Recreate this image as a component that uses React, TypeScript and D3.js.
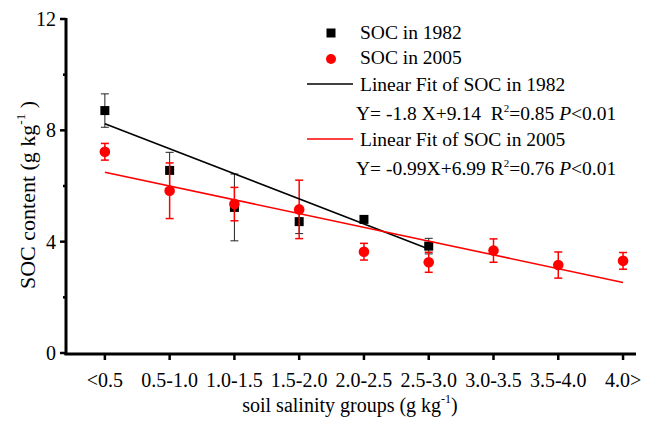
import * as d3 from 'd3';
import { useRef, useEffect } from 'react';

const groups = ['<0.5', '0.5-1.0', '1.0-1.5', '1.5-2.0', '2.0-2.5', '2.5-3.0', '3.0-3.5', '3.5-4.0', '4.0>'];
const soc1982 = [8.71, 6.56, 5.23, 4.72, 4.80, 3.84];
const err1982 = [0.6, 0.65, 1.2, 0.43, 0.1, 0.28];
const soc2005 = [7.23, 5.83, 5.35, 5.16, 3.64, 3.26, 3.68, 3.16, 3.31];
const err2005 = [0.3, 1.0, 0.6, 1.05, 0.3, 0.36, 0.42, 0.47, 0.3];
// fitted lines: Y = slope * X + intercept, X = salinity (0.5 per group)
const fitSlope = [-1.8, -0.99];
const fitIntercept = [9.14, 6.99];
const yTicks = [0, 4, 8, 12];
const yMinor = [2, 6, 10];

const FONT = '"Liberation Serif", "Times New Roman", serif';

function App() {
    const svgRef = useRef(null);
    const width = 647;
    const height = 423;

    useEffect(() => {
        const svg = d3.select(svgRef.current);
        svg.selectAll('*').remove();

        const x = d3.scaleLinear().domain([0.4, 9.2]).range([66, 636]);
        const y = d3.scaleLinear().domain([0, 12]).range([353, 19]);
        const idx = (i) => i + 1;

        const g = svg.append('g');

        // black series: error bars then squares
        const blk = g.append('g');
        soc1982.forEach((v, i) => {
            const cx = x(idx(i));
            const e = err1982[i];
            blk.append('line').attr('x1', cx).attr('x2', cx)
                .attr('y1', y(v - e)).attr('y2', y(v + e))
                .attr('stroke', '#222').attr('stroke-width', 1);
            [v - e, v + e].forEach(t => {
                blk.append('line').attr('x1', cx - 4).attr('x2', cx + 4)
                    .attr('y1', y(t)).attr('y2', y(t))
                    .attr('stroke', '#222').attr('stroke-width', 1);
            });
            blk.append('rect').attr('x', cx - 4.5).attr('y', y(v) - 4.5)
                .attr('width', 9).attr('height', 9).attr('fill', '#000');
        });

        // red series
        const red = g.append('g');
        soc2005.forEach((v, i) => {
            const cx = x(idx(i));
            const e = err2005[i];
            red.append('line').attr('x1', cx).attr('x2', cx)
                .attr('y1', y(v - e)).attr('y2', y(v + e))
                .attr('stroke', '#ff0000').attr('stroke-width', 1.5);
            [v - e, v + e].forEach(t => {
                red.append('line').attr('x1', cx - 4).attr('x2', cx + 4)
                    .attr('y1', y(t)).attr('y2', y(t))
                    .attr('stroke', '#ff0000').attr('stroke-width', 1.5);
            });
            red.append('circle').attr('cx', cx).attr('cy', y(v)).attr('r', 5.3).attr('fill', '#ff0000');
        });

        // fit lines
        const fitColors = ['#000', '#ff0000'];
        const fitLen = [soc1982.length, soc2005.length];
        fitSlope.forEach((s, k) => {
            const pts = d3.range(1, fitLen[k] + 1).map(i => [i, s * i * 0.5 + fitIntercept[k]]);
            g.append('path')
                .attr('d', d3.line().x(d => x(d[0])).y(d => y(d[1]))([pts[0], pts[pts.length - 1]]))
                .attr('fill', 'none').attr('stroke', fitColors[k]).attr('stroke-width', 1.6);
        });

        // axes
        const ax = svg.append('g').attr('font-family', FONT).attr('font-size', 20);
        ax.append('line').attr('x1', 66).attr('x2', 66).attr('y1', y(12) - 1).attr('y2', 355)
            .attr('stroke', '#000').attr('stroke-width', 3);
        ax.append('line').attr('x1', 64.5).attr('x2', 636).attr('y1', 354).attr('y2', 354)
            .attr('stroke', '#000').attr('stroke-width', 3);
        yTicks.forEach(t => {
            ax.append('line').attr('x1', 60).attr('x2', 66).attr('y1', y(t)).attr('y2', y(t))
                .attr('stroke', '#000').attr('stroke-width', 2.5);
            ax.append('text').attr('x', 56).attr('y', y(t) + 7).attr('text-anchor', 'end').text(t);
        });
        yMinor.forEach(t => {
            ax.append('line').attr('x1', 63).attr('x2', 66).attr('y1', y(t)).attr('y2', y(t))
                .attr('stroke', '#000').attr('stroke-width', 2.5);
        });
        groups.forEach((lab, i) => {
            const cx = x(idx(i));
            ax.append('line').attr('x1', cx).attr('x2', cx).attr('y1', 354).attr('y2', 360)
                .attr('stroke', '#000').attr('stroke-width', 2.5);
            ax.append('text').attr('x', cx).attr('y', 387).attr('text-anchor', 'middle').text(lab);
        });

        // axis titles
        const xt = ax.append('text').attr('x', 350).attr('y', 412).attr('text-anchor', 'middle');
        xt.append('tspan').text('soil salinity groups (g kg');
        xt.append('tspan').attr('dy', -9).attr('font-size', 12).text('-1');
        xt.append('tspan').attr('dy', 9).text(')');

        const yt = ax.append('text').attr('transform', 'translate(35,195) rotate(-90)')
            .attr('text-anchor', 'middle').attr('font-size', 22);
        yt.append('tspan').text('SOC content (g kg');
        yt.append('tspan').attr('dy', -10).attr('font-size', 13).text('-1');
        yt.append('tspan').attr('dy', 10).text(' )');

        // legend
        const lg = svg.append('g').attr('font-family', FONT).attr('font-size', 19.5);
        lg.append('rect').attr('x', 331 - 4.5).attr('y', 33 - 4.5).attr('width', 9).attr('height', 9).attr('fill', '#000');
        lg.append('circle').attr('cx', 331).attr('cy', 59).attr('r', 5).attr('fill', '#ff0000');
        lg.append('text').attr('x', 360).attr('y', 39).text('SOC in 1982');
        lg.append('text').attr('x', 360).attr('y', 64).text('SOC in 2005');
        lg.append('line').attr('x1', 307).attr('x2', 353).attr('y1', 84).attr('y2', 84)
            .attr('stroke', '#000').attr('stroke-width', 1.6);
        lg.append('text').attr('x', 360).attr('y', 91).text('Linear Fit of SOC in 1982');
        lg.append('line').attr('x1', 307).attr('x2', 353).attr('y1', 139).attr('y2', 139)
            .attr('stroke', '#ff0000').attr('stroke-width', 1.6);
        lg.append('text').attr('x', 360).attr('y', 146).text('Linear Fit of SOC in 2005');

        const eqs = [
            { yy: 120, a: 'Y= -1.8 X+9.14\u00a0\u00a0R', r2: '=0.85 ' },
            { yy: 175, a: 'Y= -0.99X+6.99 R', r2: '=0.76 ' },
        ];
        eqs.forEach(eq => {
            const t = lg.append('text').attr('x', 356).attr('y', eq.yy);
            t.append('tspan').text(eq.a);
            t.append('tspan').attr('dy', -8).attr('font-size', 11).text('2');
            t.append('tspan').attr('dy', 8).text(eq.r2);
            t.append('tspan').attr('font-style', 'italic').text('P');
            t.append('tspan').text('<0.01');
        });
    }, []);

    return (
        <svg ref={svgRef} width={width} height={height}
            style={{ position: 'absolute', left: 0, top: 0, background: '#fff' }} />
    );
}

export default App;
